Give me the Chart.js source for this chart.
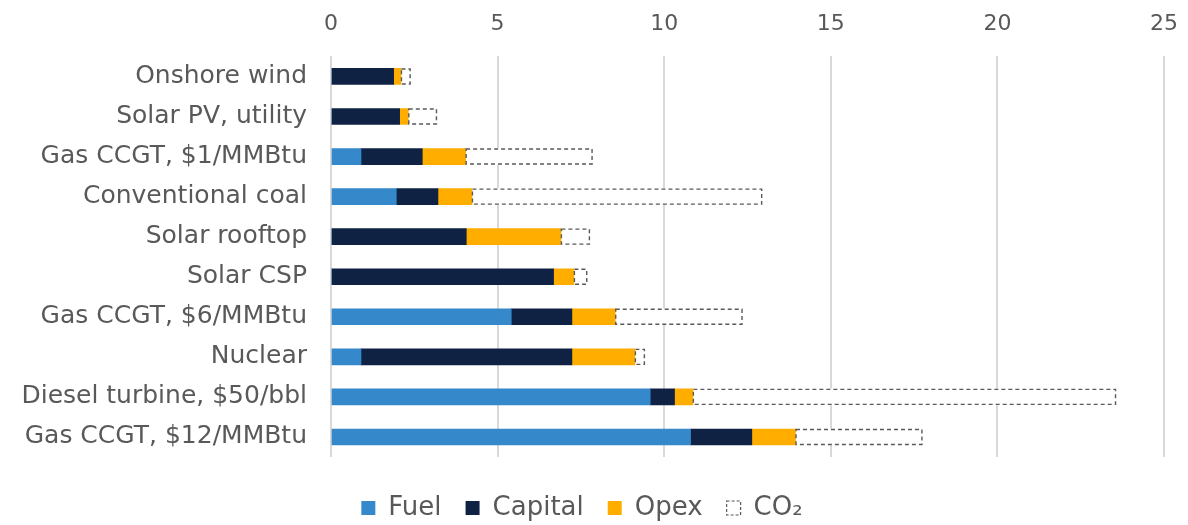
<!DOCTYPE html>
<html>
<head>
<meta charset="utf-8">
<script src="https://cdn.jsdelivr.net/npm/chart.js@4.4.1/dist/chart.umd.min.js"></script>
<style>
  html, body { margin: 0; padding: 0; background: #fff; }
  #wrap { width: 1188px; height: 525px; position: relative; }
</style>
</head>
<body>
<div id="wrap"><canvas id="graphCanvas"></canvas></div>
<script>
// technologies, top to bottom
const categories = [
    'Onshore wind',
    'Solar PV, utility',
    'Gas CCGT, $1/MMBtu',
    'Conventional coal',
    'Solar rooftop',
    'Solar CSP',
    'Gas CCGT, $6/MMBtu',
    'Nuclear',
    'Diesel turbine, $50/bbl',
    'Gas CCGT, $12/MMBtu'
];

// cost components
const fuel    = [0, 0, 0.90, 1.96, 0, 0, 5.41, 0.90, 9.58, 10.79];
const capital = [1.88, 2.06, 1.84, 1.25, 4.06, 6.68, 1.82, 6.33, 0.73, 1.84];
const opex    = [0.22, 0.26, 1.30, 1.02, 2.84, 0.61, 1.30, 1.89, 0.55, 1.31];
const co2     = [0.29, 0.86, 3.81, 8.71, 0.87, 0.40, 3.82, 0.30, 12.70, 3.81];

const xTicks = [0, 5, 10, 15, 20, 25];

const textColor = '#595959';
const fontFamily = "'DejaVu Sans', sans-serif";

// dashed outline for the CO2 bars (bar element has no borderDash)
const dashedBars = {
    id: 'dashedBars',
    afterDatasetsDraw(chart) {
        const ctx = chart.ctx;
        const meta = chart.getDatasetMeta(3);
        ctx.save();
        ctx.strokeStyle = '#595959';
        ctx.lineWidth = 1.4;
        ctx.setLineDash([4, 3]);
        meta.data.forEach(bar => {
            const p = bar.getProps(['x', 'y', 'base', 'height'], true);
            ctx.strokeRect(p.base + 0.5, p.y - p.height / 2 + 0.5, p.x - p.base - 1, p.height - 1);
        });
        ctx.restore();
    }
};

const ctx = document.getElementById('graphCanvas').getContext('2d');

window.myChart = new Chart(ctx, {
    type: 'bar',
    data: {
        labels: categories,
        datasets: [
            { label: 'Fuel', data: fuel, backgroundColor: '#3588c9' },
            { label: 'Capital', data: capital, backgroundColor: '#0f2244' },
            { label: 'Opex', data: opex, backgroundColor: '#ffae00' },
            { label: 'CO\u2082', data: co2, backgroundColor: '#ffffff' }
        ]
    },
    options: {
        indexAxis: 'y',
        responsive: true,
        maintainAspectRatio: false,
        animation: false,
        barThickness: 16,
        layout: { padding: { top: -8, right: 24, left: 0, bottom: -6 } },
        scales: {
            x: {
                position: 'top',
                stacked: true,
                min: 0,
                max: 25,
                afterBuildTicks: axis => { axis.ticks = xTicks.map(v => ({ value: v })); },
                afterFit: axis => { axis.paddingLeft = 0; axis.paddingRight = 0; },
                grid: { color: '#d9d9d9', lineWidth: 2, drawTicks: false },
                border: { display: false },
                ticks: {
                    color: textColor,
                    padding: 19,
                    font: { family: fontFamily, size: 22 }
                }
            },
            y: {
                stacked: true,
                afterFit: axis => { axis.width = 331; },
                grid: { display: false },
                border: { display: false },
                ticks: {
                    color: textColor,
                    padding: 16,
                    font: { family: fontFamily, size: 25 }
                }
            }
        },
        plugins: {
            tooltip: { enabled: false },
            legend: {
                position: 'bottom',
                // empty title only adds space between plot and legend
                title: { display: true, text: '', padding: 0, font: { size: 14, lineHeight: 1 } },
                labels: {
                    color: textColor,
                    boxWidth: 14,
                    boxHeight: 14,
                    padding: 24,
                    font: { family: fontFamily, size: 26 },
                    generateLabels(chart) {
                        const items = Chart.defaults.plugins.legend.labels.generateLabels(chart);
                        items.forEach(it => { it.lineWidth = 0; });
                        const last = items[3];
                        last.fillStyle = '#ffffff';
                        last.strokeStyle = '#595959';
                        last.lineWidth = 1.2;
                        last.lineDash = [3, 2];
                        return items;
                    }
                }
            }
        }
    },
    plugins: [dashedBars]
});
</script>
</body>
</html>
